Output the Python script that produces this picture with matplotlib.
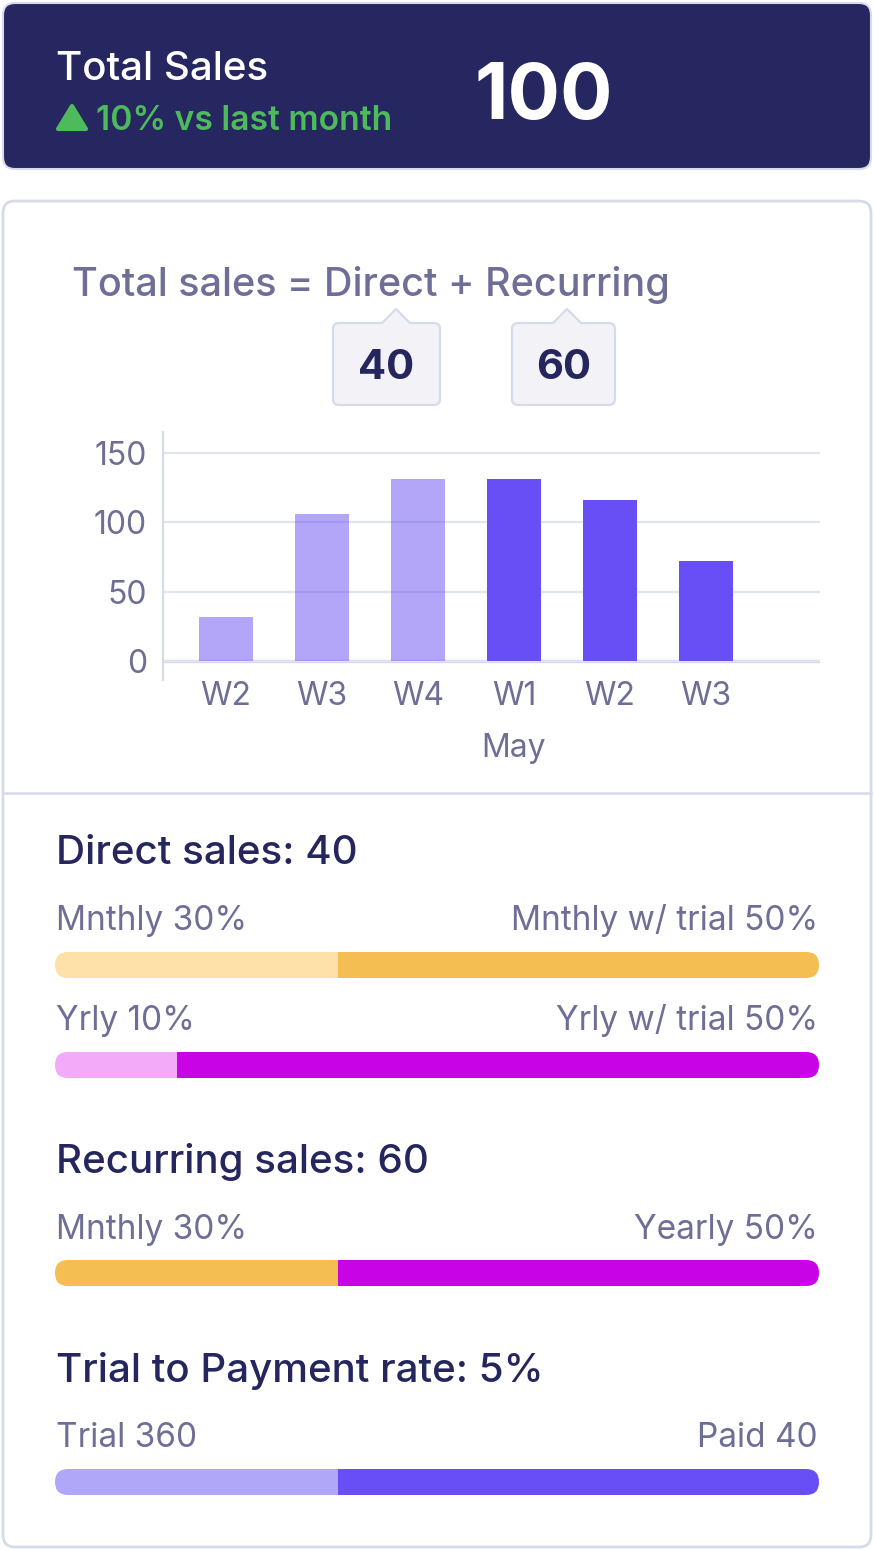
import matplotlib
matplotlib.use("Agg")
import matplotlib.pyplot as plt
from matplotlib.path import Path
from matplotlib.patches import PathPatch, Polygon

# ---------------- data ----------------
weeks = ["W2", "W3", "W4", "W1", "W2", "W3"]
week_month = ["Apr", "Apr", "Apr", "May", "May", "May"]
weekly_sales = [32, 106, 131, 131, 116, 72]
y_ticks = [0, 50, 100, 150]

total_sales = 100
growth_pct = 10
direct_sales = 40
recurring_sales = 60
trial_rate = 5
trial_count = 360
paid_count = 40

progress_titles = [f"Direct sales: {direct_sales}", None,
                   f"Recurring sales: {recurring_sales}",
                   f"Trial to Payment rate: {trial_rate}%"]
progress_left_labels = ["Mnthly 30%", "Yrly 10%", "Mnthly 30%", f"Trial {trial_count}"]
progress_right_labels = ["Mnthly w/ trial 50%", "Yrly w/ trial 50%", "Yearly 50%", f"Paid {paid_count}"]
progress_left_share = [0.37, 0.16, 0.37, 0.37]

# ---------------- style ----------------
FONT = "Inter"
NAVY_BG = "#262660"
NAVY = "#25265e"
GRAY = "#6e6e96"
GREEN = "#4dba5b"
BORDER = "#d5dbe8"
GRID = "#e0e4ee"
PURPLE = "#684ff5"
ORANGE = "#f4be52"
LIGHT_ORANGE = "#fde1a8"
MAGENTA = "#c803e6"
PINK = "#f2aaf9"
LIGHT_PURPLE = "#b1a7f9"
CALLOUT_BG = "#f3f3f7"
progress_colors = [(LIGHT_ORANGE, ORANGE), (PINK, MAGENTA), (ORANGE, MAGENTA), (LIGHT_PURPLE, PURPLE)]

plt.rcParams["font.family"] = [FONT, "DejaVu Sans"]

W, H = 874, 1550
fig = plt.figure(figsize=(W / 100, H / 100), dpi=100)
fig.patch.set_facecolor("white")
ov = fig.add_axes([0, 0, 1, 1])
ov.set_xlim(0, W)
ov.set_ylim(H, 0)
ov.axis("off")
ov.set_zorder(0)


def rounded_path(x0, y0, x1, y1, r, notch=None):
    verts = [(x0 + r, y0)]
    codes = [Path.MOVETO]
    if notch is not None:
        xl, xa, xr, ya = notch
        verts += [(xl, y0), (xa, ya), (xr, y0)]
        codes += [Path.LINETO] * 3
    verts += [(x1 - r, y0), (x1, y0), (x1, y0 + r),
              (x1, y1 - r), (x1, y1), (x1 - r, y1),
              (x0 + r, y1), (x0, y1), (x0, y1 - r),
              (x0, y0 + r), (x0, y0), (x0 + r, y0), (x0 + r, y0)]
    codes += [Path.LINETO, Path.CURVE3, Path.CURVE3,
              Path.LINETO, Path.CURVE3, Path.CURVE3,
              Path.LINETO, Path.CURVE3, Path.CURVE3,
              Path.LINETO, Path.CURVE3, Path.CURVE3, Path.CLOSEPOLY]
    return Path(verts, codes)


def txt(x, y, s, size, color, weight="normal", ha="left", va="baseline"):
    ov.text(x, y, s, fontsize=size, color=color, fontweight=weight, ha=ha, va=va)


# ---------------- header card ----------------
ov.add_patch(PathPatch(rounded_path(3, 3, 871, 169, 12), fc=NAVY_BG, ec=BORDER, lw=1.5))
txt(56, 80, "Total Sales", 29, "white", "medium")
ov.add_patch(Polygon([(72, 106), (58, 129), (86, 129)], closed=True, fc=GREEN, ec=GREEN,
                     lw=3, joinstyle="round"))
txt(96, 130, f"{growth_pct}% vs last month", 24.2, GREEN, "semibold")
txt(474, 119, f"{total_sales}", 56, "white", "bold")

# ---------------- main card ----------------
ov.add_patch(PathPatch(rounded_path(3, 201, 871, 1547, 12), fc="white", ec=BORDER, lw=2))
ov.plot([3, 871], [793, 793], color=BORDER, lw=1.8)

txt(72, 296, "Total sales = Direct + Recurring", 28.5, GRAY, "medium")

# callouts
for (x0, x1, xa), val in zip([(333, 440, 396), (512, 615, 567)], [direct_sales, recurring_sales]):
    ov.add_patch(PathPatch(rounded_path(x0, 323, x1, 405, 6, notch=(xa - 14, xa, xa + 14, 309)),
                           fc=CALLOUT_BG, ec=BORDER, lw=1.6, joinstyle="round"))
    txt((x0 + x1) / 2, 379, f"{val}", 30, NAVY, "bold", ha="center")

# ---------------- bar chart ----------------
px_per_unit = (661 - 453) / 150
ax_top, ax_bot = 432, 680
ax = fig.add_axes([163 / W, 1 - ax_bot / H, (820 - 163) / W, (ax_bot - ax_top) / H])
ax.set_zorder(1)
ax.patch.set_alpha(0)
x = list(range(len(weeks)))
alphas = [1.0 if m == "May" else 0.5 for m in week_month]
bars = ax.bar(x, weekly_sales, width=0.5625, color=PURPLE, zorder=1)
for b, a in zip(bars, alphas):
    b.set_alpha(a)
ax.set_ylim(-(ax_bot - 661) / px_per_unit, (661 - ax_top) / px_per_unit)
ax.set_xlim((163 - 226) / 96, (820 - 226) / 96)
ax.set_yticks(y_ticks)
ax.set_xticks(x)
ax.set_xticklabels(weeks)
ax.grid(axis="y", color=GRID, lw=1.6, zorder=0)
ax.set_axisbelow(True)
ax.axhline(0, color=BORDER, lw=2.4, zorder=0.5)
for s in ["top", "right", "bottom"]:
    ax.spines[s].set_visible(False)
ax.spines["left"].set_color(BORDER)
ax.spines["left"].set_linewidth(1.6)
ax.tick_params(axis="y", length=0, pad=11.5, labelsize=23, labelcolor=GRAY)
ax.tick_params(axis="x", length=0, pad=1, labelsize=23, labelcolor=GRAY)
may_idx = week_month.index("May")
ax.text(may_idx, -(757 - 661) / px_per_unit, "May", ha="center", va="baseline",
        fontsize=23, color=GRAY, clip_on=False)

# ---------------- progress bars ----------------
title_y = [864, None, 1173, 1382]
label_y = [930, 1030, 1239, 1447]
bar_cy = [965, 1065, 1273, 1482]
BX0, BX1, BH = 55, 819, 26
for i in range(4):
    if progress_titles[i]:
        txt(56, title_y[i], progress_titles[i], 29, NAVY, "medium")
    txt(56, label_y[i], progress_left_labels[i], 24, GRAY)
    txt(818, label_y[i], progress_right_labels[i], 24, GRAY, ha="right")
    clip = PathPatch(rounded_path(BX0, bar_cy[i] - BH / 2, BX1, bar_cy[i] + BH / 2, BH / 2),
                     fc="none", ec="none")
    ov.add_patch(clip)
    share = progress_left_share[i]
    cl, cr = progress_colors[i]
    segs = ov.barh([bar_cy[i], bar_cy[i]], [share * (BX1 - BX0), (1 - share) * (BX1 - BX0)],
                   left=[BX0, BX0 + share * (BX1 - BX0)], height=BH, color=[cl, cr])
    for p in segs:
        p.set_clip_path(clip)

fig.savefig("out.png", dpi=100, facecolor="white")
